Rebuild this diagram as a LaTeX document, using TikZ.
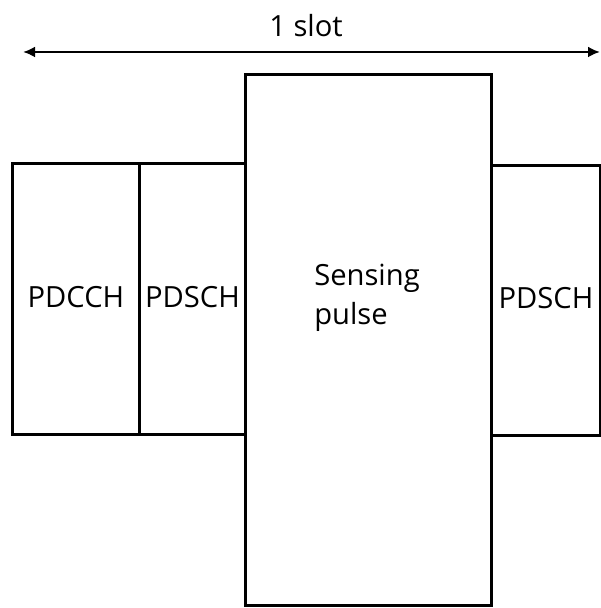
\documentclass[tikz,border=0pt]{standalone}
\usepackage{fontspec}
\setmainfont{Open Sans}
\usetikzlibrary{arrows.meta}

\begin{document}
\begin{tikzpicture}[font=\fontsize{16.6}{22.2}\selectfont]
  \tikzset{
    chanbox/.style={draw, line width=1.6pt, inner sep=0pt, anchor=south west}
  }
  \useasboundingbox (0,0) rectangle (12,12.16);

  % ---- slot arrow ----
  \coordinate (slotL) at (0.46,11.12);
  \coordinate (slotR) at (12.0,11.12);
  \draw[{Latex[length=0.24cm,width=0.22cm]}-{Latex[length=0.24cm,width=0.22cm]}, line width=1.4pt] (slotL) -- (slotR);
  \node (slot) at (6.12,11.64) {1 slot};

  % ---- channel blocks ----
  \node[chanbox, minimum width=2.54cm, minimum height=5.42cm] (pdcch) at (0.22,3.44) {};
  \node[chanbox, minimum width=2.12cm, minimum height=5.42cm] (pdschL) at (2.76,3.44) {};
  \node[chanbox, minimum width=4.92cm, minimum height=10.62cm] (pulse) at (4.88,0.02) {};
  \node[chanbox, minimum width=2.18cm, minimum height=5.40cm] (pdschR) at (9.80,3.42) {};

  % Labels
  \node (pdcchTxt) at ([yshift=0.05cm]pdcch.center) {PDCCH};
  \node (pdschLTxt) at ([yshift=0.05cm]pdschL.center) {PDSCH};
  \node (pdschRTxt) at ([yshift=0.05cm]pdschR.center) {PDSCH};
  \node[align=left] (pulseTxt) at (7.34,6.2) {Sensing\\pulse};

\end{tikzpicture}
\end{document}
